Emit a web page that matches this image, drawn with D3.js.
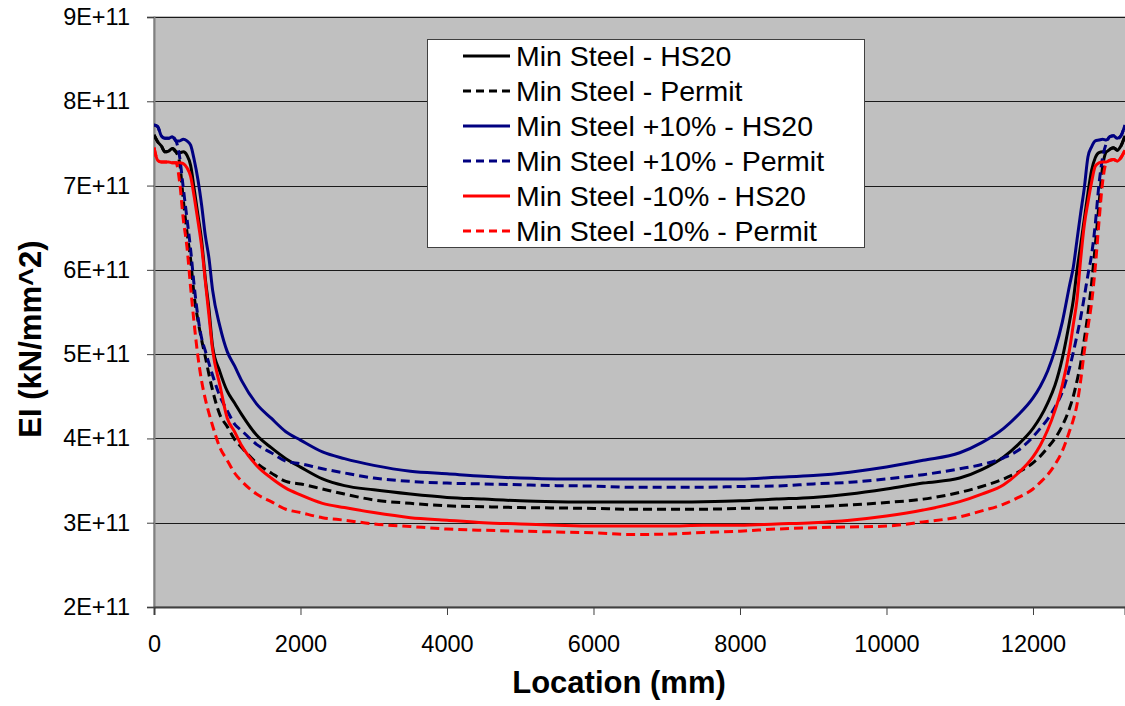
<!DOCTYPE html>
<html>
<head>
<meta charset="utf-8">
<script src="https://cdn.jsdelivr.net/npm/d3@7"></script>
<style>
  html, body { margin: 0; padding: 0; background: #fff; overflow: hidden; }
  svg { display: block; font-family: "Liberation Sans", Arial, sans-serif; }
</style>
</head>
<body>
<div id="chart"></div>
<script>
// location along the girder (mm)
const location_mm = [0, 50, 100, 150, 200, 250, 300, 350, 400, 450, 500, 550, 600, 650, 700, 750, 800,
  900, 1000, 1100, 1200, 1400, 1600, 1800, 2000, 2300, 2600, 3000, 3500, 4000, 4500, 5000, 5500,
  6000, 6500, 7000, 7500, 8000, 8500, 9000, 9500, 10000, 10500, 11000, 11300, 11600, 11800, 12000,
  12100, 12200, 12300, 12400, 12500, 12550, 12600, 12650, 12700, 12750, 12800, 12850, 12900, 12950,
  13000, 13050, 13100, 13150, 13200, 13256]

// EI values in units of 1E+11 kN/mm^2
const minHS20 = [7.60, 7.52, 7.47, 7.40, 7.41, 7.44, 7.40, 7.39, 7.40, 7.36, 7.24, 6.95, 6.65, 6.35, 5.90, 5.54, 5.09,
  4.79, 4.56, 4.42, 4.28, 4.04, 3.89, 3.76, 3.66, 3.52, 3.44, 3.39, 3.34, 3.30, 3.28, 3.26, 3.25,
  3.245, 3.245, 3.245, 3.25, 3.26, 3.28, 3.30, 3.34, 3.40, 3.47, 3.53, 3.63, 3.78, 3.93, 4.12,
  4.25, 4.42, 4.63, 4.95, 5.39, 5.64, 5.99, 6.29, 6.60, 6.91, 7.18, 7.33, 7.39, 7.40,
  7.40, 7.43, 7.45, 7.42, 7.47, 7.59]
const minPermit = [7.60, 7.52, 7.47, 7.40, 7.41, 7.44, 7.40, 7.27, 6.83, 6.45, 6.12, 5.68, 5.40, 5.17, 4.97, 4.76, 4.57,
  4.28, 4.14, 3.99, 3.89, 3.71, 3.59, 3.49, 3.46, 3.40, 3.34, 3.27, 3.23, 3.20, 3.19, 3.18, 3.175,
  3.17, 3.16, 3.16, 3.16, 3.17, 3.175, 3.19, 3.21, 3.24, 3.28, 3.36, 3.43, 3.52, 3.60, 3.71,
  3.79, 3.89, 4.00, 4.15, 4.36, 4.50, 4.68, 4.89, 5.17, 5.48, 5.84, 6.29, 6.77, 7.22,
  7.40, 7.43, 7.45, 7.42, 7.47, 7.59]
const plusHS20 = [7.72, 7.70, 7.59, 7.56, 7.56, 7.58, 7.53, 7.53, 7.55, 7.53, 7.48, 7.30, 7.07, 6.77, 6.41, 6.14, 5.76,
  5.33, 5.03, 4.86, 4.68, 4.41, 4.24, 4.08, 3.98, 3.84, 3.76, 3.68, 3.61, 3.58, 3.55, 3.53, 3.52,
  3.52, 3.52, 3.52, 3.52, 3.52, 3.54, 3.56, 3.60, 3.66, 3.74, 3.83, 3.95, 4.12, 4.28, 4.48,
  4.62, 4.80, 5.05, 5.38, 5.82, 6.03, 6.35, 6.67, 6.97, 7.34, 7.46, 7.53, 7.54, 7.55,
  7.54, 7.58, 7.59, 7.56, 7.59, 7.72]
const plusPermit = [7.72, 7.70, 7.59, 7.56, 7.56, 7.58, 7.53, 7.34, 6.97, 6.61, 6.24, 5.80, 5.44, 5.19, 5.04, 4.89, 4.75,
  4.50, 4.33, 4.17, 4.09, 3.93, 3.83, 3.73, 3.70, 3.64, 3.59, 3.53, 3.49, 3.47, 3.46, 3.45, 3.44,
  3.435, 3.42, 3.42, 3.42, 3.43, 3.435, 3.46, 3.48, 3.52, 3.57, 3.64, 3.69, 3.77, 3.86, 4.02,
  4.12, 4.23, 4.37, 4.55, 4.84, 5.02, 5.22, 5.43, 5.68, 5.94, 6.18, 6.54, 7.01, 7.33,
  7.50, 7.58, 7.59, 7.56, 7.59, 7.72]
const minusHS20 = [7.45, 7.30, 7.28, 7.28, 7.28, 7.27, 7.27, 7.27, 7.26, 7.21, 7.11, 6.86, 6.58, 6.28, 5.87, 5.46, 5.05,
  4.63, 4.24, 4.08, 3.91, 3.68, 3.53, 3.41, 3.33, 3.23, 3.18, 3.12, 3.06, 3.03, 3.00, 2.985, 2.97,
  2.96, 2.96, 2.96, 2.97, 2.97, 2.985, 3.00, 3.03, 3.08, 3.15, 3.25, 3.34, 3.45, 3.59, 3.78,
  3.92, 4.10, 4.33, 4.63, 5.06, 5.35, 5.64, 6.12, 6.53, 6.80, 7.04, 7.23, 7.27, 7.28,
  7.28, 7.30, 7.31, 7.29, 7.33, 7.42]
const minusPermit = [7.45, 7.30, 7.28, 7.28, 7.28, 7.27, 7.27, 7.04, 6.60, 6.27, 5.79, 5.35, 4.97, 4.68, 4.47, 4.30, 4.15,
  3.89, 3.74, 3.59, 3.49, 3.34, 3.25, 3.16, 3.12, 3.06, 3.03, 2.985, 2.955, 2.925, 2.91, 2.90, 2.89,
  2.88, 2.86, 2.865, 2.885, 2.90, 2.925, 2.94, 2.95, 2.96, 3.01, 3.07, 3.14, 3.22, 3.30, 3.40,
  3.48, 3.57, 3.69, 3.85, 4.09, 4.22, 4.40, 4.68, 5.03, 5.32, 5.61, 6.03, 6.56, 7.04,
  7.27, 7.30, 7.31, 7.29, 7.33, 7.42]

const seriesNames = ["Min Steel - HS20", "Min Steel - Permit", "Min Steel +10% - HS20",
  "Min Steel +10% - Permit", "Min Steel -10% - HS20", "Min Steel -10% - Permit"]
const seriesValues = [minHS20, minPermit, plusHS20, plusPermit, minusHS20, minusPermit]
const seriesColors = ["#000000", "#000000", "#000080", "#000080", "#ff0000", "#ff0000"]
const seriesDashed = [false, true, false, true, false, true]

const xTicks = [0, 2000, 4000, 6000, 8000, 10000, 12000]
const yTicks = [2e11, 3e11, 4e11, 5e11, 6e11, 7e11, 8e11, 9e11]

const width = 1125, height = 706
const plot = { left: 154, top: 17, right: 1125, bottom: 607 }

const svg = d3.select("#chart").append("svg")
  .attr("width", width)
  .attr("height", height)

const x = d3.scaleLinear().domain([0, 13256]).range([plot.left, plot.right])
const y = d3.scaleLinear().domain([2e11, 9e11]).range([plot.bottom, plot.top])

// plot area
svg.append("rect")
  .attr("x", plot.left).attr("y", plot.top)
  .attr("width", plot.right - plot.left + 10).attr("height", plot.bottom - plot.top)
  .attr("fill", "#c0c0c0")
  .attr("stroke", "#808080")

// gridlines
svg.append("g")
  .selectAll("line")
  .data(yTicks.slice(1))
  .join("line")
  .attr("x1", plot.left).attr("x2", plot.right + 5)
  .attr("y1", d => Math.round(y(d)) + 0.5).attr("y2", d => Math.round(y(d)) + 0.5)
  .attr("stroke", "#1a1a1a")
  .attr("stroke-width", 1.2)

// axes
const yAxis = d3.axisLeft(y)
  .tickValues(yTicks)
  .tickSize(7)
  .tickPadding(17)
  .tickFormat(d => `${Math.round(d / 1e11)}E+11`)
const gy = svg.append("g")
  .attr("transform", `translate(${plot.left},0)`)
  .call(yAxis)
gy.select(".domain").attr("stroke", "#808080").attr("stroke-width", 2)
gy.selectAll(".tick line").attr("stroke", "#404040")
gy.selectAll(".tick text")
  .attr("font-size", 23.5)
  .attr("font-family", "Liberation Sans, Arial, sans-serif")
  .attr("fill", "#000")

const xAxis = d3.axisBottom(x)
  .tickValues(xTicks)
  .tickSize(8)
  .tickPadding(20)
  .tickFormat(d3.format("d"))
const gx = svg.append("g")
  .attr("transform", `translate(0,${plot.bottom})`)
  .call(xAxis)
gx.select(".domain").attr("stroke", "#404040").attr("stroke-width", 2)
gx.selectAll(".tick line").attr("stroke", "#404040")
gx.selectAll(".tick text")
  .attr("font-size", 23.5)
  .attr("font-family", "Liberation Sans, Arial, sans-serif")
  .attr("fill", "#000")

// clip
svg.append("clipPath").attr("id", "clip")
  .append("rect")
  .attr("x", plot.left).attr("y", plot.top)
  .attr("width", plot.right - plot.left + 10).attr("height", plot.bottom - plot.top)

const line = d3.line()
  .x((d, i) => x(location_mm[i]))
  .y(d => y(d * 1e11))
  .curve(d3.curveMonotoneX)

const gLines = svg.append("g").attr("clip-path", "url(#clip)")
seriesValues.forEach((vals, k) => {
  gLines.append("path")
    .datum(vals)
    .attr("d", line)
    .attr("fill", "none")
    .attr("stroke", seriesColors[k])
    .attr("stroke-width", 3)
    .attr("stroke-dasharray", seriesDashed[k] ? "9,5" : null)
    .attr("stroke-linejoin", "round")
})

// legend
const legend = svg.append("g").attr("transform", "translate(427,39)")
legend.append("rect")
  .attr("x", 0.5).attr("y", 0.5)
  .attr("width", 437).attr("height", 208)
  .attr("fill", "#fff")
  .attr("stroke", "#404040")
const rows = legend.selectAll("g.row")
  .data(seriesNames)
  .join("g")
  .attr("class", "row")
  .attr("transform", (d, i) => `translate(0,${17 + i * 35})`)
rows.append("line")
  .attr("x1", 36).attr("x2", 83)
  .attr("stroke", (d, i) => seriesColors[i])
  .attr("stroke-width", 3)
  .attr("stroke-dasharray", (d, i) => seriesDashed[i] ? "8,5" : null)
rows.append("text")
  .attr("x", 89)
  .attr("dy", "0.36em")
  .attr("font-size", 28.5)
  .attr("fill", "#000")
  .text(d => d)

// axis titles
svg.append("text")
  .attr("x", 619).attr("y", 693)
  .attr("text-anchor", "middle")
  .attr("font-size", 31)
  .attr("font-weight", "bold")
  .text("Location (mm)")

svg.append("text")
  .attr("transform", "translate(41,339) rotate(-90)")
  .attr("text-anchor", "middle")
  .attr("font-size", 31)
  .attr("font-weight", "bold")
  .text("EI (kN/mm^2)")
</script>
</body>
</html>
